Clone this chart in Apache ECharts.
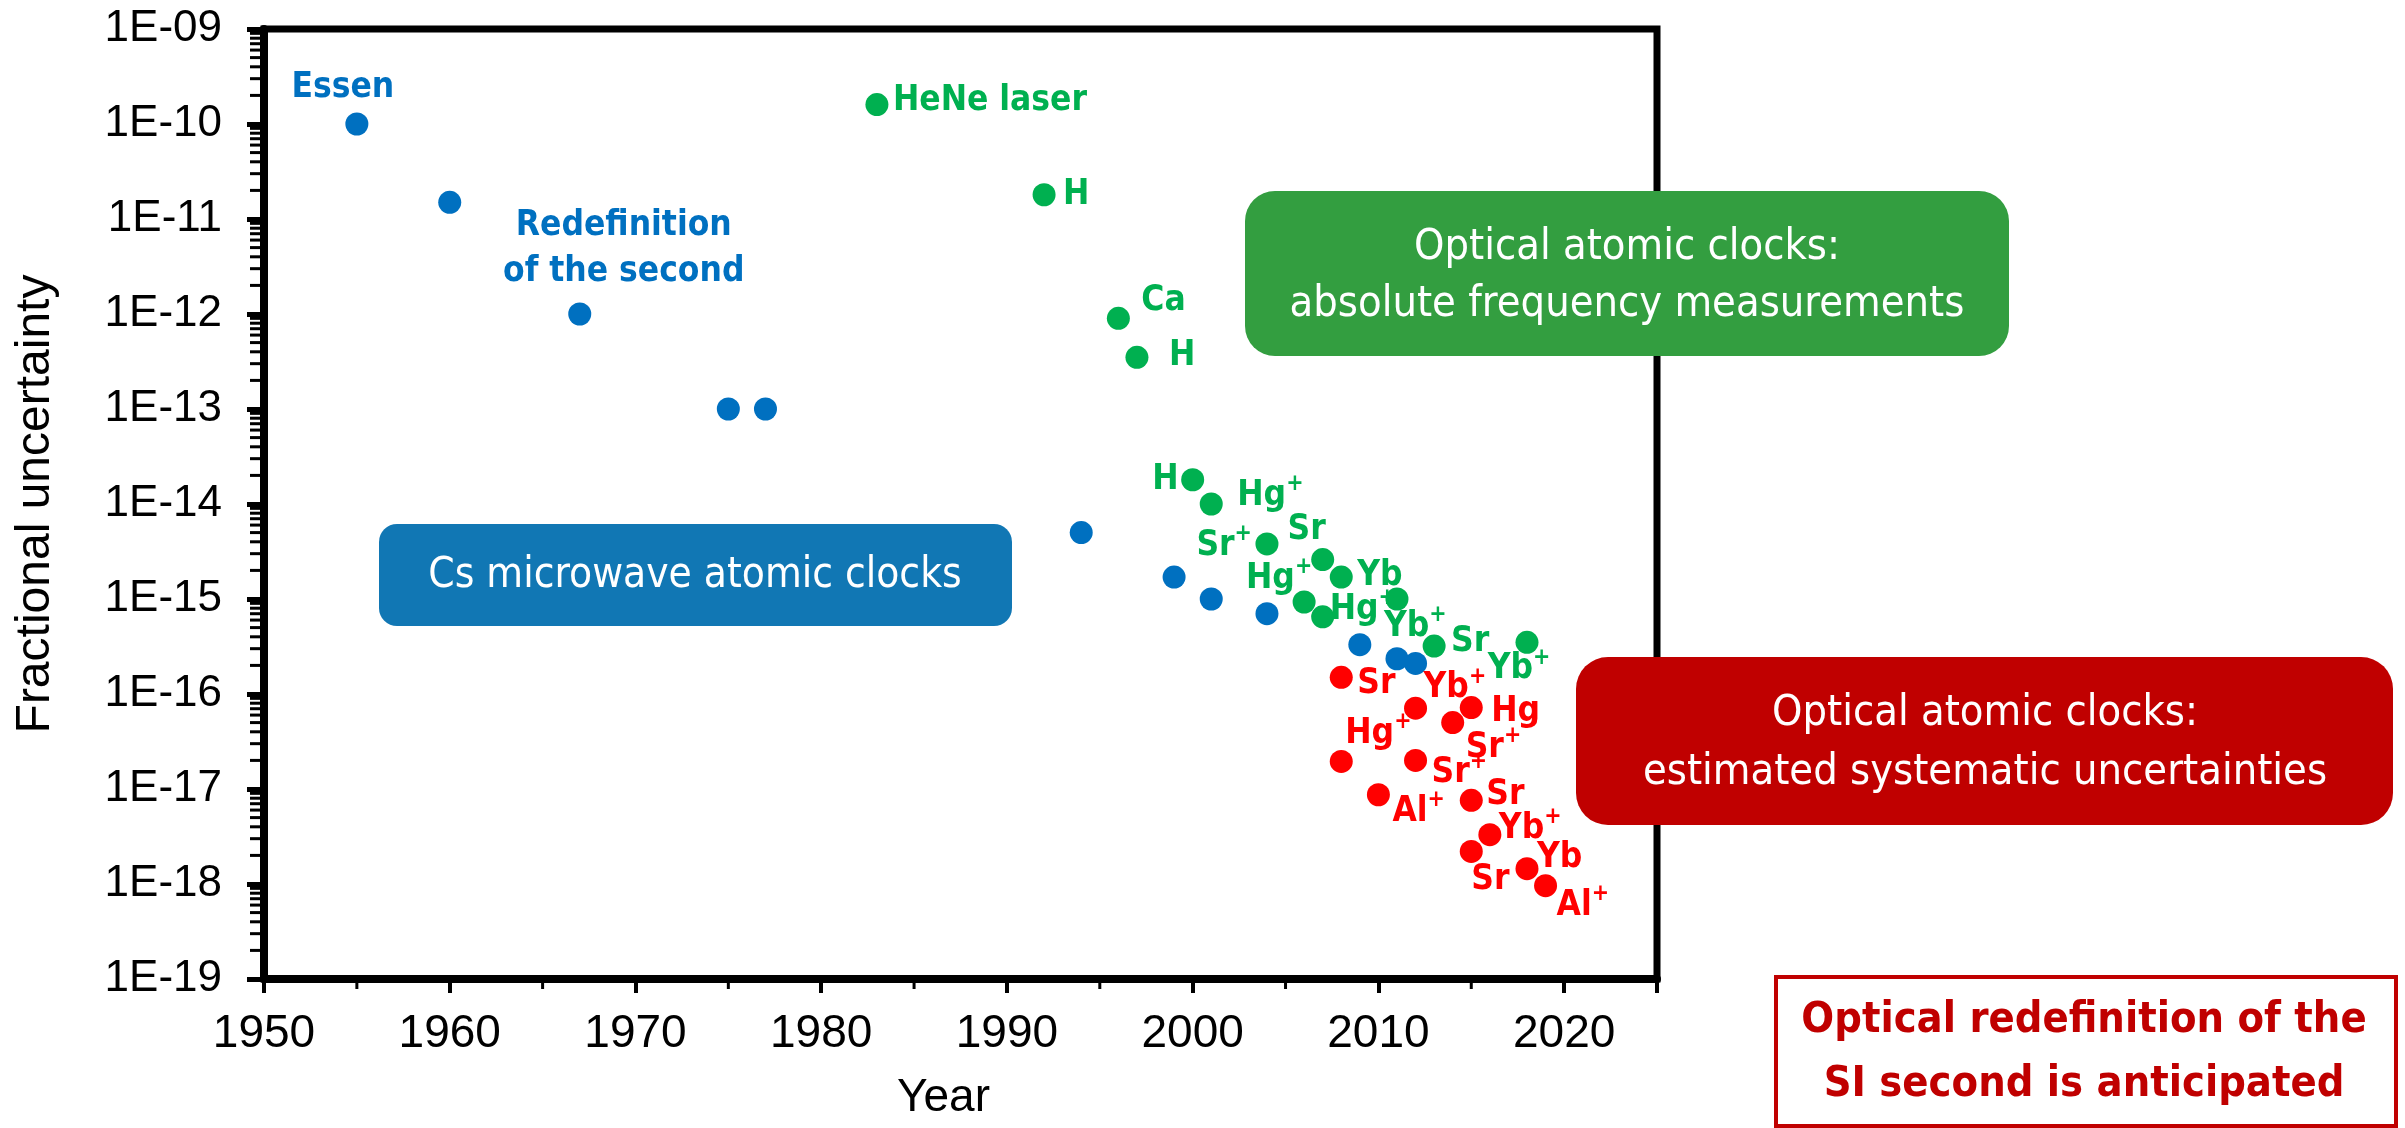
<!DOCTYPE html>
<html>
<head>
<meta charset="utf-8">
<script src="https://cdn.jsdelivr.net/npm/echarts@6/dist/echarts.min.js"></script>
<style>
  html, body { margin: 0; padding: 0; background: #ffffff; }
  #chart { width: 2405px; height: 1128px; }
</style>
</head>
<body>
<div id="chart"></div>
<script>
// Cs microwave atomic clocks
const csYears  = [1955, 1960, 1967, 1975, 1977, 1994, 1999, 2001, 2004, 2009, 2011, 2012];
const csValues = [1e-10, 1.5e-11, 1e-12, 1e-13, 1e-13, 5e-15, 1.7e-15, 1e-15, 7e-16, 3.3e-16, 2.35e-16, 2.1e-16];
const csNames  = ['Essen', '', 'Redefinition\nof the second', '', '', '', '', '', '', '', '', ''];

// Optical atomic clocks: absolute frequency measurements
const absYears  = [1983, 1992, 1996, 1997, 2000, 2001, 2004, 2007, 2008, 2006, 2007, 2011, 2013, 2018];
const absValues = [1.6e-10, 1.8e-11, 9e-13, 3.5e-13, 1.8e-14, 1e-14, 3.8e-15, 2.6e-15, 1.7e-15, 9.3e-16, 6.5e-16, 1.0e-15, 3.2e-16, 3.5e-16];
const absNames  = ['HeNe laser', 'H', 'Ca', 'H', 'H', 'Hg+', 'Sr+', 'Sr', 'Yb', 'Hg+', 'Hg+', 'Yb+', 'Sr', 'Yb+'];

// Optical atomic clocks: estimated systematic uncertainties
const sysYears  = [2008, 2012, 2015, 2014, 2008, 2012, 2010, 2015, 2016, 2015, 2018, 2019];
const sysValues = [1.5e-16, 7.1e-17, 7.2e-17, 5e-17, 1.95e-17, 2e-17, 8.7e-18, 7.6e-18, 3.3e-18, 2.2e-18, 1.45e-18, 9.6e-19];
const sysNames  = ['Sr', 'Yb+', 'Hg', 'Sr+', 'Hg+', 'Sr+', 'Al+', 'Sr', 'Yb+', 'Sr', 'Yb', 'Al+'];

// Axis tick labels and tick positions
const xTickLabels = ['1950', '1960', '1970', '1980', '1990', '2000', '2010', '2020'];
const xMinorTicks = [1955, 1965, 1975, 1985, 1995, 2005, 2015, 2025];
const yTickLabels = ['1E-09', '1E-10', '1E-11', '1E-12', '1E-13', '1E-14', '1E-15', '1E-16', '1E-17', '1E-18', '1E-19'];
const minorMantissas = [2, 3, 4, 5, 6, 7, 8, 9];

// Label placement next to each dot: [dx, dy, align]
const csLabelPlace = [[-14, -36, 'center'], null, [44, -65, 'center'], null, null, null, null, null, null, null, null, null];
const absLabelPlace = [
  [16, -4, 'left'], [19, 0, 'left'], [23, -17, 'left'], [32, -1, 'left'],
  [-14, 0, 'right'], [26, -8, 'left'], [-15, 2, 'right'], [-16, -30, 'center'],
  [16, -1, 'left'], [-25, -23, 'center'], [7, -7, 'left'], [-13, 28, 'left'],
  [17, -4, 'left'], [-8, 27, 'center']
];
const sysLabelPlace = [
  [16, 7, 'left'], [8, -20, 'left'], [20, 4, 'left'], [13, 25, 'left'],
  [4, -28, 'left'], [16, 13, 'left'], [14, 17, 'left'], [15, -5, 'left'],
  [9, -6, 'left'], [0, 28, 'left'], [10, -11, 'left'], [11, 20, 'left']
];

const BLUE = '#0070C0', GREEN = '#00B050', RED = '#FF0000';
const AXIS_FONT = '"Liberation Sans", Arial, sans-serif';
const LABEL_FONT = '"Liberation Sans Narrow", "DejaVu Sans Condensed", "Noto Sans", sans-serif';

// Minor log ticks (2..9 within each decade)
const minorTickValues = [];
for (let e = -19; e < -9; e++) {
  minorMantissas.forEach(m => minorTickValues.push(m * Math.pow(10, e)));
}

function richName(name) {
  return name.split('\n').map(line => {
    const i = line.indexOf('+');
    if (i < 0) return '{t|' + line + '}';
    return '{t|' + line.slice(0, i) + '}{sup|+}';
  }).join('\n');
}

function buildData(years, values, names, places, color) {
  return years.map((yr, i) => {
    const item = { value: [yr, values[i]], name: names[i] };
    const p = places[i];
    if (p && names[i]) {
      item.label = {
        show: true,
        position: 'inside',
        offset: [p[0], p[1]],
        align: p[2],
        verticalAlign: 'middle',
        color: color,
        formatter: richName(names[i]),
        rich: {
          t:   { fontSize: 35, fontWeight: 'bold', fontFamily: LABEL_FONT, color: color, lineHeight: 46, align: p[2] },
          sup: { fontSize: 23, fontWeight: 'bold', fontFamily: LABEL_FONT, color: color, verticalAlign: 'top', lineHeight: 28 }
        }
      };
    } else {
      item.label = { show: false };
    }
    return item;
  });
}

function scatterSeries(name, years, values, names, places, color) {
  return {
    name: name,
    type: 'scatter',
    symbol: 'circle',
    symbolSize: 23,
    itemStyle: { color: color, opacity: 1 },
    emphasis: { disabled: true },
    data: buildData(years, values, names, places, color),
    z: 5
  };
}

// Short outward tick drawn with the axis scales
function tickSeries(data, dir, len) {
  return {
    type: 'custom',
    silent: true,
    clip: false,
    z: 10,
    data: data,
    renderItem: (params, api) => {
      const p = api.coord([api.value(0), api.value(1)]);
      const shape = dir === 'left'
        ? { x1: p[0] - len, y1: p[1], x2: p[0], y2: p[1] }
        : { x1: p[0], y1: p[1], x2: p[0], y2: p[1] + len };
      return { type: 'line', shape: shape, style: { stroke: '#000', lineWidth: 3 } };
    }
  };
}

const chart = echarts.init(document.getElementById('chart'), null, { renderer: 'canvas' });

const option = {
  backgroundColor: '#ffffff',
  animation: false,
  grid: {
    left: 264, right: 748, top: 29, bottom: 149,
    show: true, borderColor: '#000', borderWidth: 7, backgroundColor: 'transparent'
  },
  xAxis: {
    type: 'value',
    min: 1950, max: 2025, interval: 10,
    axisLine: { show: true, lineStyle: { color: '#000', width: 8 } },
    axisTick: { show: true, length: 14, lineStyle: { color: '#000', width: 4 } },
    splitLine: { show: false },
    axisLabel: {
      formatter: v => xTickLabels[(v - 1950) / 10] || '',
      fontSize: 46, color: '#000', fontFamily: AXIS_FONT, margin: 32
    },
    name: 'Year', nameLocation: 'middle', nameGap: 96,
    nameTextStyle: { fontSize: 46, color: '#000', fontFamily: AXIS_FONT, padding: [0, 34, 0, 0] }
  },
  yAxis: {
    type: 'log', logBase: 10,
    min: 1e-19, max: 1e-9, interval: 1,
    axisLine: { show: true, lineStyle: { color: '#000', width: 8 } },
    axisTick: { show: true, length: 17, lineStyle: { color: '#000', width: 5 } },
    splitLine: { show: false },
    axisLabel: {
      formatter: v => yTickLabels[-9 - Math.round(Math.log10(v))] || '',
      fontSize: 44, color: '#000', fontFamily: AXIS_FONT, margin: 42
    },
    name: 'Fractional uncertainty', nameLocation: 'middle', nameGap: 204,
    nameTextStyle: { fontSize: 48, color: '#000', fontFamily: AXIS_FONT }
  },
  series: [
    tickSeries(minorTickValues.map(v => [1950, v]), 'left', 14),
    tickSeries(xMinorTicks.map(v => [v, 1e-19]), 'down', 10),
    scatterSeries('Cs microwave atomic clocks', csYears, csValues, csNames, csLabelPlace, BLUE),
    scatterSeries('absolute frequency measurements', absYears, absValues, absNames, absLabelPlace, GREEN),
    scatterSeries('estimated systematic uncertainties', sysYears, sysValues, sysNames, sysLabelPlace, RED)
  ],
  graphic: [
    {
      type: 'rect', z: 100, left: 379, top: 524,
      shape: { width: 633, height: 102, r: 18 },
      style: { fill: '#1177B4' }
    },
    {
      type: 'text', z: 101, x: 695, y: 576,
      style: {
        text: 'Cs microwave atomic clocks', fill: '#ffffff',
        fontSize: 42, fontFamily: LABEL_FONT, align: 'center', verticalAlign: 'middle'
      }
    },
    {
      type: 'rect', z: 100, left: 1245, top: 191,
      shape: { width: 764, height: 165, r: 30 },
      style: { fill: '#339E40' }
    },
    {
      type: 'text', z: 101, x: 1627, y: 276,
      style: {
        text: 'Optical atomic clocks:\nabsolute frequency measurements', fill: '#ffffff',
        fontSize: 43, lineHeight: 57, fontFamily: LABEL_FONT, align: 'center', verticalAlign: 'middle'
      }
    },
    {
      type: 'rect', z: 100, left: 1576, top: 657,
      shape: { width: 817, height: 168, r: 32 },
      style: { fill: '#C00000' }
    },
    {
      type: 'text', z: 101, x: 1985, y: 743,
      style: {
        text: 'Optical atomic clocks:\nestimated systematic uncertainties', fill: '#ffffff',
        fontSize: 43, lineHeight: 59, fontFamily: LABEL_FONT, align: 'center', verticalAlign: 'middle'
      }
    },
    {
      type: 'rect', z: 100, left: 1774, top: 975,
      shape: { width: 620, height: 149 },
      style: { fill: '#ffffff', stroke: '#C00000', lineWidth: 4 }
    },
    {
      type: 'text', z: 101, x: 2084, y: 1053,
      style: {
        text: 'Optical redefinition of the\nSI second is anticipated', fill: '#C00000',
        fontSize: 43, lineHeight: 64, fontWeight: 'bold', fontFamily: LABEL_FONT,
        align: 'center', verticalAlign: 'middle'
      }
    }
  ]
};

chart.setOption(option);
</script>
</body>
</html>
